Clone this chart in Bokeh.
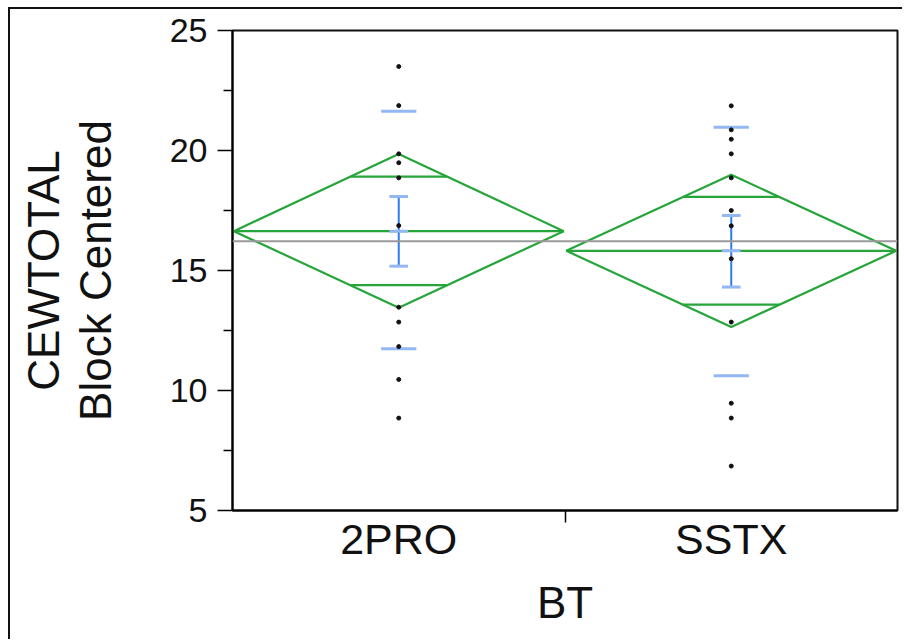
from bokeh.plotting import figure
from bokeh.models import Range1d, FixedTicker, Span
from bokeh.embed import file_html
from bokeh.resources import INLINE

# ---------------- data ----------------
categories = ["2PRO", "SSTX"]
means = [16.64, 15.82]
diamond_top = [19.85, 18.99]
diamond_bottom = [13.45, 12.65]
overlap_upper = [18.91, 18.07]
overlap_lower = [14.39, 13.58]
se_upper = [18.08, 17.29]
se_lower = [15.18, 14.31]
sd_upper = [21.64, 20.97]
sd_lower = [11.74, 10.61]
grand_mean = 16.22
points_2pro = [23.5, 21.87, 19.86, 19.49, 18.86, 16.87, 13.47, 12.85, 11.83, 10.46, 8.85]
points_sstx = [21.86, 20.86, 20.47, 19.86, 18.86, 17.5, 16.86, 15.49, 12.85, 9.47, 8.85, 6.85]
y_ticks = [5, 10, 15, 20, 25]
y_minor = [7.5, 12.5, 17.5, 22.5]

# ---------------- style ----------------
FONT = "Liberation Sans"
GREEN = "#25a53a"
BLUE = "#2f7cf0"
LIGHTBLUE = "#93b6f4"
GREY = "#9a9a9a"
HW = 0.496      # diamond half width (category units)
CAP = 0.028
SDW = 0.053

centers = [i + 0.5 for i in range(len(categories))]

p = figure(width=894, height=632, x_range=Range1d(0, len(categories)), y_range=Range1d(5, 25),
           output_backend="svg", toolbar_location=None,
           min_border_left=222, min_border_top=21, min_border_right=7, min_border_bottom=131)
p.margin = (7, 0, 0, 8)
p.styles = {"border-left": "2px solid #111", "border-top": "2px solid #111"}
p.grid.visible = False
p.outline_line_color = "#111"
p.outline_line_width = 2
p.background_fill_color = "white"
p.border_fill_color = "white"

# y axis
ya = p.yaxis[0]
ya.ticker = FixedTicker(ticks=y_ticks, minor_ticks=y_minor)
ya.major_tick_out = 15
ya.major_tick_in = 0
ya.minor_tick_out = 9
ya.minor_tick_in = 0
ya.major_tick_line_width = 1.5
ya.minor_tick_line_width = 1.5
ya.axis_line_width = 2
ya.major_label_standoff = 10
ya.major_label_text_font = FONT
ya.major_label_text_font_size = "34px"
ya.major_label_text_color = "#111"
ya.axis_label = "CEWTOTAL\nBlock Centered"
ya.axis_label_text_font = FONT
ya.axis_label_text_font_size = "44px"
ya.axis_label_text_font_style = "normal"
ya.axis_label_text_color = "#111"
ya.axis_label_text_line_height = 1.05
ya.axis_label_standoff = 47

# x axis
xa = p.xaxis[0]
xa.ticker = FixedTicker(ticks=centers, minor_ticks=[1.0])
xa.major_label_overrides = {c: cat for c, cat in zip(centers, categories)}
xa.major_tick_line_color = None
xa.major_tick_out = 0
xa.major_tick_in = 0
xa.minor_tick_out = 12
xa.minor_tick_in = 0
xa.minor_tick_line_width = 1.5
xa.axis_line_width = 2
xa.major_label_standoff = -8
xa.major_label_text_font = FONT
xa.major_label_text_font_size = "43px"
xa.major_label_text_color = "#111"
xa.axis_label = "BT"
xa.axis_label_text_font = FONT
xa.axis_label_text_font_size = "44px"
xa.axis_label_text_font_style = "normal"
xa.axis_label_text_color = "#111"
xa.axis_label_standoff = 12

# grand mean line
p.add_layout(Span(location=grand_mean, dimension="width", line_color=GREY, line_width=2))

# diamonds
xs = [[c - HW, c, c + HW, c, c - HW] for c in centers]
ys = [[m, t, m, b, m] for m, t, b in zip(means, diamond_top, diamond_bottom)]
p.patches(xs, ys, fill_color=None, line_color=GREEN, line_width=2.2)

# mean lines
p.segment([c - HW for c in centers], means, [c + HW for c in centers], means,
          line_color=GREEN, line_width=2.2)

# overlap marks (span the diamond width at their level)
def half_at(level, m, t):
    return HW * (1 - abs(level - m) / abs(t - m))

ox0, ox1, oy = [], [], []
for c, m, t, b, ou, ol in zip(centers, means, diamond_top, diamond_bottom, overlap_upper, overlap_lower):
    hu = half_at(ou, m, t)
    hl = half_at(ol, m, b)
    ox0 += [c - hu, c - hl]
    ox1 += [c + hu, c + hl]
    oy += [ou, ol]
p.segment(ox0, oy, ox1, oy, line_color=GREEN, line_width=2.2)

# std dev lines
p.segment([c - SDW for c in centers] * 2, sd_upper + sd_lower,
          [c + SDW for c in centers] * 2, sd_upper + sd_lower,
          line_color=LIGHTBLUE, line_width=3)

# std error bars
p.segment(centers, se_lower, centers, se_upper, line_color=BLUE, line_width=2)
p.segment([c - CAP for c in centers] * 2, se_upper + se_lower,
          [c + CAP for c in centers] * 2, se_upper + se_lower,
          line_color=LIGHTBLUE, line_width=3)
p.segment([c - CAP for c in centers], means, [c + CAP for c in centers], means,
          line_color=LIGHTBLUE, line_width=3)

# points
px = [centers[0]] * len(points_2pro) + [centers[1]] * len(points_sstx)
py = points_2pro + points_sstx
p.scatter(px, py, size=4, color="#111", marker="circle")

open("out.html", "w").write(file_html(p, INLINE))
